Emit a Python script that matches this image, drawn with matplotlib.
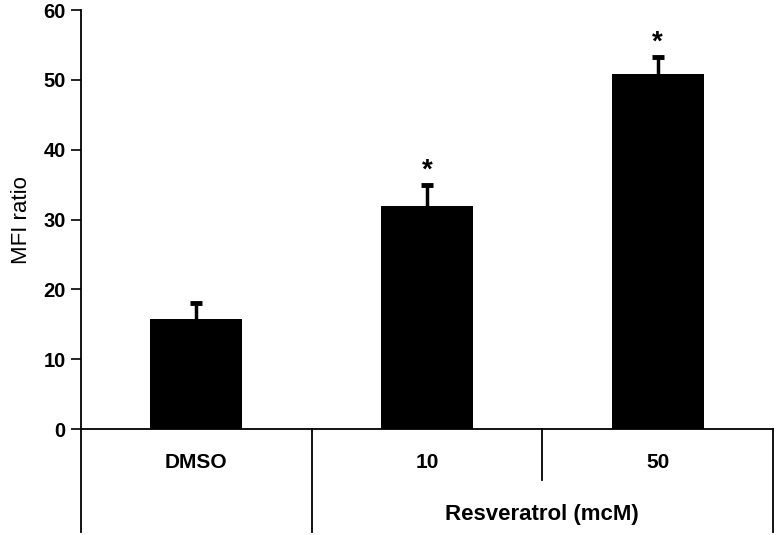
import matplotlib.pyplot as plt
import matplotlib.transforms as mtransforms

# data
groups = ['DMSO', '10', '50']
mfi = [15.7, 32.0, 50.8]
err = [2.3, 3.0, 2.5]
signif = [False, True, True]
yticks = [0, 10, 20, 30, 40, 50, 60]

plt.rcParams['font.family'] = ['Liberation Sans', 'DejaVu Sans']

fig = plt.figure(figsize=(7.77, 5.35), dpi=100)
ax = fig.add_axes([0.104, 0.198, 0.891, 0.783])

x = list(range(len(groups)))
ax.bar(x, mfi, width=0.4, color='black', zorder=2)
# upper error bars only
tops = [m + e for m, e in zip(mfi, err)]
ax.vlines(x, mfi, tops, color='black', lw=2.5, zorder=1)
ax.plot(x, tops, linestyle='none', marker='_', markersize=9,
        markeredgewidth=3.5, color='black', zorder=1)

# significance stars
for xi, t, s in zip(x, tops, signif):
    if s:
        ax.text(xi, t + 0.2, '*', ha='center', va='bottom',
                fontsize=20, fontweight='bold')

ax.set_xlim(-0.5, 2.5)
ax.set_ylim(0, 60)
ax.set_yticks(yticks)
ax.set_yticklabels([str(t) for t in yticks], fontsize=14.5, fontweight='bold')
ax.set_xticks([])
ax.tick_params(axis='y', direction='out', length=7, width=1.2, pad=4)
ax.spines['top'].set_visible(False)
ax.spines['right'].set_visible(False)
ax.spines['left'].set_linewidth(1.3)
ax.spines['bottom'].set_linewidth(1.3)
ax.set_ylabel('MFI ratio', fontsize=16, labelpad=8)

# category table below the axis
trans = mtransforms.blended_transform_factory(ax.transData, ax.transAxes)
for xv, ybot in [(-0.5, -0.246), (0.5, -0.246), (1.5, -0.122), (2.5, -0.246)]:
    ax.plot([xv, xv], [0, ybot], color='black', lw=1.3, transform=trans,
            clip_on=False)
for xi, g in zip(x, groups):
    ax.text(xi, -0.079, g, transform=trans, ha='center', va='center',
            fontsize=15, fontweight='bold')
ax.text(1.5, -0.205, 'Resveratrol (mcM)', transform=trans, ha='center',
        va='center', fontsize=16, fontweight='bold')

fig.savefig('out.png', dpi=100)
